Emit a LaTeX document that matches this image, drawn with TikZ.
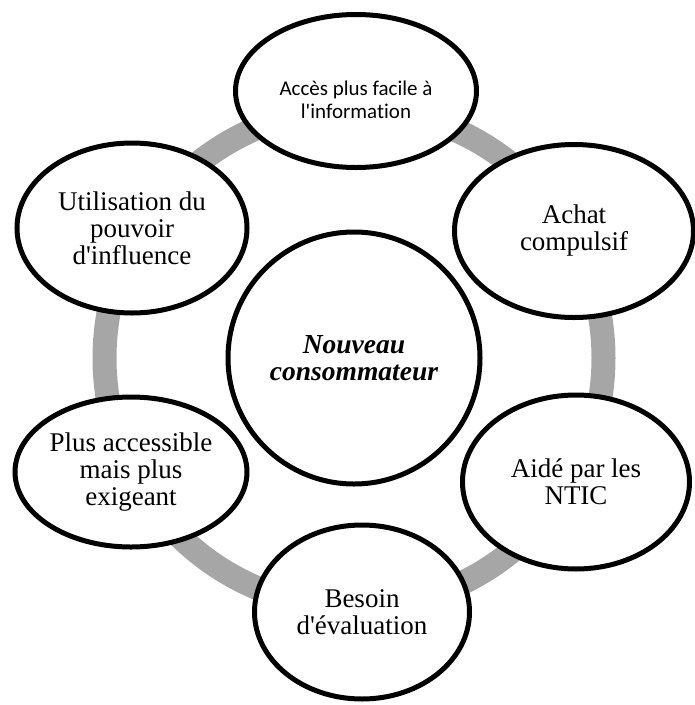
\documentclass[tikz,border=0pt]{standalone}
\usepackage{fontspec}
\setmainfont{Liberation Serif}[Ligatures=TeXOff]
\newfontfamily\calib{Carlito}[Ligatures={TeXOff,NoCommon}]
\usetikzlibrary{shapes.geometric}
\definecolor{ringgray}{RGB}{166,166,166}
\tikzset{
  petal/.style={ellipse, draw=black, fill=white, line width=5pt, inner sep=0pt,
    align=center, font=\fontsize{27}{27}\selectfont},
  hub/.style={circle, draw=black, fill=white, line width=5pt, inner sep=0pt,
    minimum size=252pt, align=center,
    font=\fontsize{27.5}{27}\selectfont\bfseries\itshape},
  smalltext/.style={align=center, inner sep=0pt,
    font=\fontsize{21}{23.5}\selectfont\calib},
  ring/.style={draw=ringgray, line width=24pt}
}
\begin{document}
\begin{tikzpicture}[x=1pt, y=-1pt]
  \useasboundingbox (0,0) rectangle (695,705);
  % grey cycle behind the nodes
  \coordinate (mid) at (354,358);
  \draw[ring] (mid) circle[radius=249.5pt];
  % central node
  \node[hub] (centre) at (mid) {Nouveau\\consommateur};
  % surrounding nodes
  \node[petal, minimum width=241pt, minimum height=153pt] (acces) at (356,91) {};
  \node[smalltext] (accestext) at ([yshift=-9pt]acces.center)
        {Accès plus facile à\\l'information};
  \node[petal, minimum width=239pt, minimum height=173pt] (achat) at (574,231)
        {Achat\\compulsif};
  \node[petal, minimum width=227pt, minimum height=174pt] (aide) at (576,482)
        {Aidé par les\\NTIC};
  \node[petal, minimum width=215pt, minimum height=174pt] (besoin) at (362,612)
        {Besoin\\d'évaluation};
  \node[petal, minimum width=232pt, minimum height=150pt] (plus) at (131,472)
        {Plus accessible\\mais plus\\exigeant};
  \node[petal, minimum width=230pt, minimum height=170pt] (util) at (132,228)
        {Utilisation du\\pouvoir\\d'influence};
\end{tikzpicture}
\end{document}
